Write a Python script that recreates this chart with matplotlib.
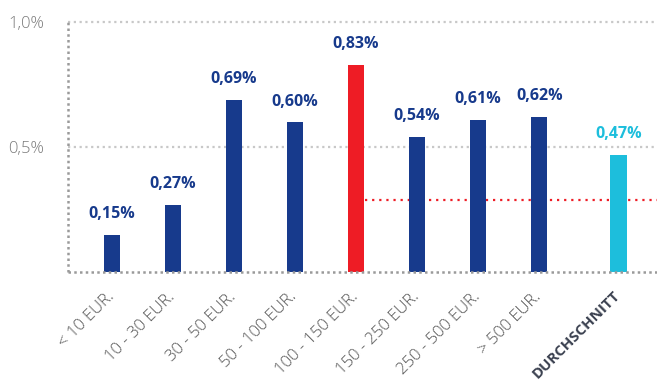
import matplotlib.pyplot as plt
import matplotlib.transforms as mtransforms
from matplotlib.ticker import FixedLocator

categories = ["< 10 EUR.", "10 - 30 EUR.", "30 - 50 EUR.", "50 - 100 EUR.",
              "100 - 150 EUR.", "150 - 250 EUR.", "250 - 500 EUR.", "> 500 EUR.",
              "DURCHSCHNITT"]
values = [0.15, 0.27, 0.69, 0.60, 0.83, 0.54, 0.61, 0.62, 0.47]
positions = [0, 1, 2, 3, 4, 5, 6, 7, 8.3]
reference_level = 0.29
yticks = [0.5, 1.0]
ytick_labels = ["0,5%", "1,0%"]

BLUE = "#173A8C"
RED = "#EE1C25"
CYAN = "#1DBEDC"
colors = [BLUE, BLUE, BLUE, BLUE, RED, BLUE, BLUE, BLUE, CYAN]
label_colors = [BLUE] * 8 + [CYAN]

plt.rcParams['font.family'] = ['Open Sans', 'DejaVu Sans']

fig = plt.figure(figsize=(6.57, 3.85), dpi=100)
ax = fig.add_axes([68 / 657, 1 - 272 / 385, 1 - 68 / 657, 250 / 385])
ax.set_xlim(-0.72, 8.93)
ax.set_ylim(0, 1.0)

# gridlines and frame
for y in yticks:
    ax.axhline(y, color="#c8c8c8", lw=1.6, ls=(0, (1, 1.6)), zorder=0, clip_on=False)
ax.axhline(0, color="#9a9a9a", lw=1.8, ls=(0, (1, 1.3)), zorder=3, clip_on=False)
ax.axvline(-0.72, color="#9a9a9a", lw=1.8, ls=(0, (1, 1.3)), zorder=3, clip_on=False)
for s in ax.spines.values():
    s.set_visible(False)

# red reference line from the highlighted bar to the right edge
ax.plot([4.15, 8.93], [reference_level, reference_level], color=RED, lw=1.6,
        ls=(0, (1, 2.2)), zorder=1, clip_on=False)

ax.bar(positions, values, width=0.27, color=colors, zorder=2)

for x, v, c in zip(positions, values, label_colors):
    ax.text(x, v + 0.05, f"{v:.2f}%".replace(".", ","), ha="center", va="bottom",
            color=c, fontsize=11.5, fontweight="bold")

ax.yaxis.set_major_locator(FixedLocator(yticks))
ax.set_yticklabels(ytick_labels, color="#7a7a7a", fontsize=12, fontweight="light")
ax.tick_params(axis="y", length=0, pad=17)

ax.set_xticks(positions)
ax.set_xticklabels(categories, rotation=45, ha="right", va="top",
                   rotation_mode="anchor", fontsize=12, color="#555555",
                   fontweight="light")
ax.tick_params(axis="x", length=0, pad=12)
shift = mtransforms.ScaledTranslation(-6 / 100, 0, fig.dpi_scale_trans)
for lbl in ax.get_xticklabels():
    lbl.set_transform(lbl.get_transform() + shift)
    if lbl.get_text() == "DURCHSCHNITT":
        lbl.set_fontweight("bold")
        lbl.set_fontsize(10.8)
        lbl.set_color("#3b4150")

fig.savefig("out.png", dpi=100)
